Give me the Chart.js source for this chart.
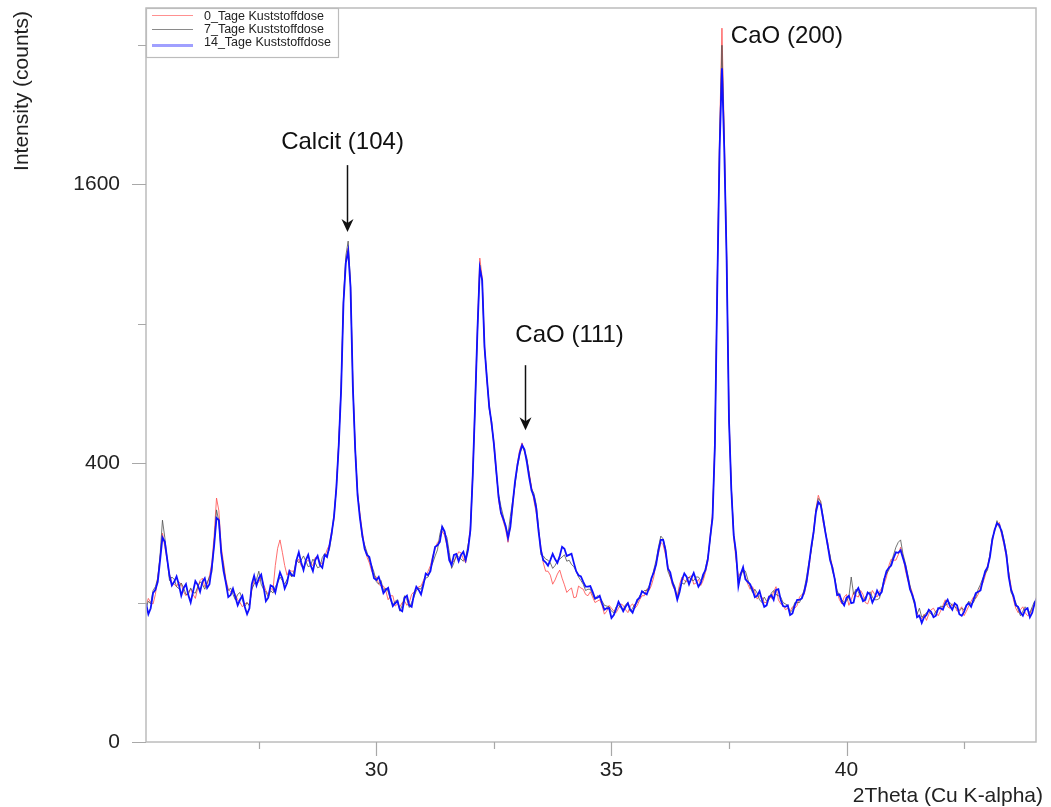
<!DOCTYPE html>
<html>
<head>
<meta charset="utf-8">
<script src="https://cdn.jsdelivr.net/npm/chart.js@4/dist/chart.umd.min.js"></script>
<style>
  html, body { margin: 0; padding: 0; background: #ffffff; }
  #wrap { width: 1051px; height: 807px; }
</style>
</head>
<body>
<div id="wrap"><canvas id="c" width="1051" height="807"></canvas></div>
<script>
// ---- data ----
const twoTheta = [
  25.1,25.2,25.3,25.4,25.45,25.5,25.6,25.7,25.8,25.9,
  26.0,26.1,26.2,26.3,26.4,26.5,26.55,26.6,26.65,26.7,
  26.8,26.9,27.0,27.1,27.2,27.3,27.4,27.5,27.6,27.7,
  27.8,27.9,28.0,28.1,28.2,28.3,28.4,28.5,28.6,28.7,
  28.8,28.9,29.0,29.05,29.1,29.15,29.2,29.25,29.3,29.35,
  29.4,29.45,29.5,29.55,29.6,29.7,29.8,29.9,30.0,30.1,
  30.2,30.3,30.4,30.5,30.6,30.7,30.8,30.9,31.0,31.1,
  31.2,31.3,31.4,31.5,31.6,31.7,31.8,31.9,32.0,32.05,
  32.1,32.15,32.2,32.25,32.3,32.35,32.4,32.45,32.5,32.6,
  32.7,32.8,32.9,33.0,33.1,33.2,33.3,33.4,33.5,33.6,
  33.7,33.8,33.9,34.0,34.1,34.2,34.3,34.4,34.5,34.6,
  34.7,34.8,34.9,35.0,35.1,35.2,35.3,35.4,35.5,35.6,
  35.7,35.8,35.9,36.0,36.05,36.1,36.15,36.2,36.3,36.4,
  36.5,36.6,36.7,36.8,36.9,37.0,37.05,37.1,37.15,37.2,
  37.25,37.3,37.35,37.4,37.45,37.5,37.55,37.6,37.7,37.8,
  37.9,38.0,38.1,38.2,38.3,38.4,38.5,38.6,38.7,38.8,
  38.9,39.0,39.1,39.2,39.3,39.35,39.4,39.45,39.5,39.6,
  39.7,39.8,39.9,40.0,40.1,40.2,40.3,40.4,40.5,40.6,
  40.7,40.8,40.9,41.0,41.1,41.15,41.2,41.3,41.4,41.5,
  41.6,41.7,41.8,41.9,42.0,42.1,42.2,42.3,42.4,42.5,
  42.6,42.7,42.8,42.9,43.0,43.1,43.15,43.2,43.25,43.3,
  43.4,43.5,43.6,43.7,43.8,43.9,44.0,44.05
];
const counts0 = [
  96,100,112,175,224,196,145,128,132,116,
  116,112,122,138,128,165,220,306,275,196,
  136,116,112,100,98,96,136,132,128,112,
  118,193,185,143,150,165,160,166,164,175,
  166,176,200,230,255,340,465,650,1000,1190,
  1255,1075,660,445,320,228,176,150,140,125,
  118,110,95,94,102,100,116,124,134,150,
  178,205,228,198,165,176,184,165,240,380,
  600,890,1204,1110,815,670,590,510,465,300,
  250,205,285,400,460,410,335,270,195,150,
  143,135,152,127,119,107,125,120,110,108,
  102,96,88,92,86,98,90,95,92,104,
  110,118,140,182,205,200,180,160,126,110,
  140,132,142,130,126,148,168,220,270,470,
  1100,1900,2620,1900,1230,550,335,215,140,150,
  128,124,105,108,100,106,124,98,90,88,
  92,108,112,155,232,280,313,295,250,205,
  160,115,98,112,104,110,118,100,108,112,
  116,128,160,170,180,195,178,135,115,86,
  78,76,90,86,88,104,92,96,90,82,
  95,108,112,130,160,205,235,240,248,220,
  175,125,92,90,86,84,95,112
];
const counts7 = [
  92,98,124,180,253,215,134,136,121,122,
  112,115,124,128,130,148,205,277,250,184,
  130,122,104,115,94,95,128,150,120,108,
  114,130,134,136,140,172,170,168,160,165,
  158,182,190,220,268,330,460,645,1010,1215,
  1290,1080,655,442,318,215,185,160,132,134,
  122,104,102,88,110,93,108,122,130,140,
  165,190,240,215,155,180,172,175,225,360,
  570,860,1170,1090,795,690,570,530,450,315,
  262,222,300,388,448,415,330,290,180,172,
  165,160,172,180,170,158,140,128,120,112,
  110,102,95,88,94,92,97,88,98,110,
  118,125,152,195,218,212,192,150,133,106,
  130,136,135,140,134,156,175,210,262,445,
  1080,1850,2496,1850,1210,540,330,225,135,152,
  136,115,114,100,102,114,112,108,98,86,
  100,100,120,166,222,278,305,298,262,195,
  150,118,104,102,140,120,108,108,116,104,
  106,138,152,180,205,210,182,145,108,84,
  80,86,84,88,95,96,100,94,88,90,
  102,100,120,138,152,215,228,252,236,232,
  185,115,100,82,94,86,102,104
];
const counts14 = [
  99,92,119,170,215,206,142,132,127,122,
  111,116,127,132,122,157,199,258,253,184,
  130,111,108,104,94,92,142,138,124,107,
  124,132,138,130,143,170,166,170,161,170,
  161,180,197,225,262,334,453,637,990,1180,
  1240,1064,648,438,313,220,180,157,135,128,
  119,107,99,90,107,96,112,119,127,143,
  174,199,238,203,161,182,180,170,231,366,
  584,872,1155,1097,802,681,577,523,456,308,
  256,214,293,394,453,403,326,281,189,166,
  170,172,178,192,180,165,143,132,124,116,
  107,99,92,79,91,95,94,90,95,107,
  114,122,148,189,210,210,189,155,130,104,
  135,140,138,135,130,152,172,215,258,453,
  1050,1801,2334,1801,1194,533,326,220,125,157,
  132,119,110,104,96,111,119,104,94,83,
  96,104,116,161,227,272,296,289,258,199,
  156,111,101,107,99,116,112,104,112,107,
  111,135,156,174,184,189,174,140,111,80,
  73,83,87,82,92,99,95,99,84,87,
  99,104,116,135,157,210,231,246,242,227,
  180,119,96,86,90,80,99,107
];
// in-between readings (noise between the main samples)
const twoThetaMid = [
  25.15,25.25,25.35,25.65,25.75,25.85,25.95,26.05,26.15,26.25,
  26.35,26.45,26.75,26.85,26.95,27.05,27.15,27.25,27.35,27.45,
  27.55,27.65,27.75,27.85,27.95,28.05,28.15,28.25,28.35,28.45,
  28.55,28.65,28.75,28.85,28.95,29.65,29.75,29.85,29.95,30.05,
  30.15,30.25,30.35,30.45,30.55,30.65,30.75,30.85,30.95,31.05,
  31.15,31.25,31.35,31.45,31.55,31.65,31.75,31.85,31.95,32.55,
  32.65,32.75,32.85,32.95,33.05,33.15,33.25,33.35,33.45,33.55,
  33.65,33.75,33.85,33.95,34.05,34.15,34.25,34.35,34.45,34.55,
  34.65,34.75,34.85,34.95,35.05,35.15,35.25,35.35,35.45,35.55,
  35.65,35.75,35.85,35.95,36.25,36.35,36.45,36.55,36.65,36.75,
  36.85,36.95,37.65,37.75,37.85,37.95,38.05,38.15,38.25,38.35,
  38.45,38.55,38.65,38.75,38.85,38.95,39.05,39.15,39.25,39.55,
  39.65,39.75,39.85,39.95,40.05,40.15,40.25,40.35,40.45,40.55,
  40.65,40.75,40.85,40.95,41.05,41.25,41.35,41.45,41.55,41.65,
  41.75,41.85,41.95,42.05,42.15,42.25,42.35,42.45,42.55,42.65,
  42.75,42.85,42.95,43.05,43.35,43.45,43.55,43.65,43.75,43.85,
  43.95
];
const counts0Mid = [
  106,98,140,130,124,128,110,120,106,134,
  124,142,165,120,118,104,94,100,118,128,
  140,118,122,160,210,160,152,150,172,155,
  170,160,176,162,190,270,196,165,142,128,
  125,104,110,98,100,96,112,118,125,142,
  160,192,210,220,176,168,186,172,196,385,
  268,232,240,345,440,432,372,300,232,165,
  150,128,145,138,115,122,108,122,112,116,
  100,104,84,96,88,92,96,86,98,96,
  110,120,126,165,140,118,128,134,140,128,
  136,134,170,148,140,120,116,110,100,110,
  116,104,96,92,94,96,112,130,190,225,
  175,135,104,108,96,115,108,112,98,118,
  108,122,140,172,170,152,125,98,80,84,
  84,92,82,96,94,98,88,94,88,102,
  106,124,142,180,200,148,104,86,94,82,
  92
];
const counts7Mid = [
  102,118,138,140,124,130,112,122,114,132,
  120,140,160,118,112,112,104,100,120,136,
  128,116,118,124,140,128,146,150,165,178,
  158,172,156,175,180,262,200,170,148,128,
  118,116,96,104,96,104,100,118,120,138,
  155,178,222,225,185,165,176,168,200,372,
  285,236,262,340,425,436,370,318,238,178,
  170,155,168,176,168,162,150,134,118,120,
  104,108,96,94,86,96,90,100,92,100,
  114,118,135,170,140,124,122,128,140,134,
  140,138,178,142,150,124,120,104,108,104,
  118,110,100,96,90,100,108,140,188,230,
  180,138,110,100,108,112,116,104,112,108,
  104,120,145,165,195,165,126,96,92,82,
  88,82,90,94,98,96,92,92,96,98,
  108,128,146,182,210,148,108,90,88,90,
  94
];
const counts14Mid = [
  84,114,132,126,141,110,128,100,133,116,
  138,128,150,108,121,96,110,84,128,126,
  144,102,126,115,148,121,150,142,185,152,
  180,150,178,156,176,258,192,176,138,140,
  114,122,95,102,88,110,94,124,112,146,
  150,196,206,228,170,180,168,186,190,378,
  270,240,238,350,430,440,360,310,228,170,
  160,182,165,196,178,182,150,141,124,125,
  106,110,90,92,83,101,88,99,86,104,
  117,112,138,162,148,120,116,146,128,147,
  124,144,185,145,136,128,108,117,94,108,
  104,120,95,96,85,104,106,132,196,226,
  170,136,112,96,110,100,122,102,115,100,
  118,116,150,160,185,160,120,100,82,80,
  90,80,92,90,104,90,96,82,96,94,
  114,118,150,176,205,140,110,94,82,92,
  86
];
const seriesNames = ['0_Tage Kuststoffdose', '7_Tage Kuststoffdose', '14_Tage Kuststoffdose'];
const xTickValues = [27.5, 30, 32.5, 35, 37.5, 40, 42.5];
const xTickLabels = [30, 35, 40];
const yTickValues = [0, 100, 400, 900, 1600, 2500];
const yTickLabels = [0, 400, 1600];
const xTitle = '2Theta (Cu K-alpha)';
const yTitle = 'Intensity (counts)';
const peakLabels = [
  { text: 'Calcit (104)', x: 29.28, y: 1807, align: 'center', arrow: { x: 29.38, from: 1711, to: 1337 } },
  { text: 'CaO (111)', x: 34.11, y: 822, align: 'center', arrow: { x: 33.17, from: 730, to: 500 } },
  { text: 'CaO (200)', x: 37.54, y: 2511, align: 'left', arrow: null }
];

// ---- square-root intensity scale ----
class SqrtScale extends Chart.LinearScale {
  buildTicks() { return yTickValues.map(v => ({ value: v })); }
  configure() {
    super.configure();
    this._s0 = Math.sqrt(Math.max(this.min, 0));
    this._s1 = Math.sqrt(Math.max(this.max, 0));
  }
  getPixelForValue(value) {
    if (value === null || value === undefined || isNaN(value)) return NaN;
    const s = Math.sqrt(Math.max(value, 0));
    return this.getPixelForDecimal((s - this._s0) / (this._s1 - this._s0));
  }
  getValueForPixel(pixel) {
    const s = this._s0 + this.getDecimalForPixel(pixel) * (this._s1 - this._s0);
    return s * s;
  }
}
SqrtScale.id = 'sqrt';
SqrtScale.defaults = {};
Chart.register(SqrtScale);

const FONT = "'Liberation Sans', Arial, Helvetica, sans-serif";
const legendStyle = [
  { color: '#ff9090', width: 1.2 },
  { color: '#8a8a8a', width: 1.2 },
  { color: '#a0a0ff', width: 3 }
];

const decor = {
  id: 'decor',
  afterDraw(chart) {
    const { ctx, chartArea: a, scales: { x, y } } = chart;
    ctx.save();
    // frame
    ctx.strokeStyle = '#bcbcbc';
    ctx.lineWidth = 1.5;
    ctx.strokeRect(a.left, a.top, a.right - a.left, a.bottom - a.top);
    // tick marks
    ctx.strokeStyle = '#a8a8a8';
    ctx.lineWidth = 1.2;
    ctx.beginPath();
    x.ticks.forEach(t => {
      const px = Math.round(x.getPixelForValue(t.value)) + 0.5;
      const len = xTickLabels.includes(t.value) ? 14 : 7;
      ctx.moveTo(px, a.bottom); ctx.lineTo(px, a.bottom + len);
    });
    y.ticks.forEach(t => {
      const py = Math.round(y.getPixelForValue(t.value)) + 0.5;
      const len = yTickLabels.includes(t.value) ? 14 : 8;
      ctx.moveTo(a.left, py); ctx.lineTo(a.left - len, py);
    });
    ctx.stroke();
    // axis titles
    ctx.fillStyle = '#222';
    ctx.font = '21px ' + FONT;
    ctx.textAlign = 'right';
    ctx.textBaseline = 'alphabetic';
    ctx.fillText(xTitle, 1043, 802);
    ctx.save();
    ctx.translate(28, 91);
    ctx.rotate(-Math.PI / 2);
    ctx.textAlign = 'center';
    ctx.fillText(yTitle, 0, 0);
    ctx.restore();
    // legend box
    const lx = a.left, ly = a.top, lw = 192, lh = 49;
    ctx.fillStyle = '#ffffff';
    ctx.fillRect(lx, ly, lw, lh);
    ctx.strokeStyle = '#bcbcbc';
    ctx.lineWidth = 1.2;
    ctx.strokeRect(lx + 0.5, ly + 0.5, lw, lh);
    const lineYs = [7.5, 21.5, 37.5];
    const textYs = [12, 24.5, 37.5];
    ctx.font = '12.5px ' + FONT;
    ctx.textAlign = 'left';
    chart.data.datasets.forEach((ds, i) => {
      ctx.strokeStyle = legendStyle[i].color;
      ctx.lineWidth = legendStyle[i].width;
      ctx.beginPath();
      ctx.moveTo(lx + 6, ly + lineYs[i]);
      ctx.lineTo(lx + 47, ly + lineYs[i]);
      ctx.stroke();
      ctx.fillStyle = '#222';
      ctx.fillText(ds.label, lx + 58, ly + textYs[i]);
    });
    // peak annotations
    ctx.font = '24px ' + FONT;
    ctx.fillStyle = '#111';
    ctx.strokeStyle = '#111';
    peakLabels.forEach(p => {
      ctx.textAlign = p.align;
      ctx.fillText(p.text, x.getPixelForValue(p.x), y.getPixelForValue(p.y));
      if (p.arrow) {
        const ax = Math.round(x.getPixelForValue(p.arrow.x)) + 0.5;
        const y0 = y.getPixelForValue(p.arrow.from);
        const y1 = y.getPixelForValue(p.arrow.to);
        ctx.lineWidth = 1.5;
        ctx.beginPath();
        ctx.moveTo(ax, y0); ctx.lineTo(ax, y1 - 8);
        ctx.stroke();
        ctx.beginPath();
        ctx.moveTo(ax, y1);
        ctx.lineTo(ax - 6, y1 - 13);
        ctx.lineTo(ax, y1 - 9);
        ctx.lineTo(ax + 6, y1 - 13);
        ctx.closePath();
        ctx.fill();
      }
    });
    ctx.restore();
  }
};

const pts = (xs, ys) => xs.map((t, i) => ({ x: t, y: ys[i] }));
const merged = (main, mid) =>
  pts(twoTheta, main).concat(pts(twoThetaMid, mid)).sort((p, q) => p.x - q.x);

new Chart(document.getElementById('c'), {
  type: 'line',
  data: {
    datasets: [
      { label: seriesNames[0], data: merged(counts0, counts0Mid), borderColor: 'rgba(255,85,85,0.85)', borderWidth: 1, order: 2 },
      { label: seriesNames[1], data: merged(counts7, counts7Mid), borderColor: 'rgba(80,80,80,0.8)', borderWidth: 1, order: 1 },
      { label: seriesNames[2], data: merged(counts14, counts14Mid), borderColor: '#1010ff', borderWidth: 1.8, order: 0 }
    ]
  },
  options: {
    responsive: false,
    animation: false,
    layout: { padding: { top: 8, right: 15, left: 0, bottom: 0 } },
    elements: { point: { radius: 0 }, line: { tension: 0 } },
    plugins: { legend: { display: false }, tooltip: { enabled: false } },
    scales: {
      x: {
        type: 'linear',
        min: 25.1,
        max: 44.03,
        afterBuildTicks: s => { s.ticks = xTickValues.map(v => ({ value: v })); },
        afterFit: s => { s.height = 65; s.paddingLeft = 0; s.paddingRight = 0; },
        grid: { display: false, drawTicks: false },
        border: { display: false },
        ticks: {
          autoSkip: false, maxRotation: 0, padding: 16, color: '#222',
          font: { family: FONT, size: 21 },
          callback: v => (xTickLabels.includes(v) ? String(v) : '')
        }
      },
      y: {
        type: 'sqrt',
        min: 0,
        max: 2770,
        afterFit: s => { s.width = 146; s.paddingTop = 0; s.paddingBottom = 0; },
        grid: { display: false, drawTicks: false },
        border: { display: false },
        ticks: {
          autoSkip: false, padding: 26, color: '#222',
          font: { family: FONT, size: 21 },
          callback: v => (yTickLabels.includes(v) ? String(v) : '')
        }
      }
    }
  },
  plugins: [decor]
});
</script>
</body>
</html>
